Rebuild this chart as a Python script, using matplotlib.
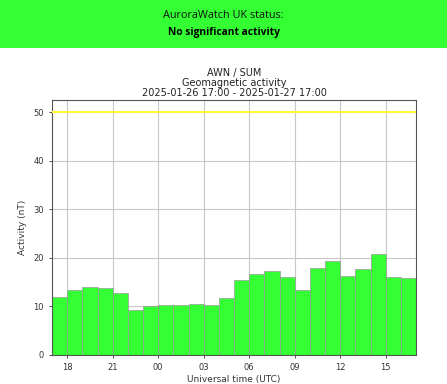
import datetime as dt
import matplotlib
matplotlib.use('Agg')
import matplotlib.pyplot as plt
import matplotlib.dates as mdates
from matplotlib.patches import Rectangle

# hourly activity values (nT), 2025-01-26 17:00 -> 2025-01-27 17:00
activity = [12.0, 13.4, 14.1, 13.8, 12.7, 9.3, 10.1, 10.3, 10.3, 10.4, 10.3, 11.8,
            15.4, 16.6, 17.2, 16.0, 13.4, 17.9, 19.3, 16.2, 17.7, 20.8, 16.0, 15.8]
threshold = 50
start = dt.datetime(2025, 1, 26, 17, 0)
end = dt.datetime(2025, 1, 27, 17, 0)
times = [start + dt.timedelta(hours=i) for i in range(len(activity))]

status_title = 'AuroraWatch UK status:'
status_text = 'No significant activity'
plot_title = 'AWN / SUM\nGeomagnetic activity\n2025-01-26 17:00 - 2025-01-27 17:00'

fig = plt.figure(figsize=(4.47, 3.84), dpi=100)

# green status banner at the top
fig.patches.append(Rectangle((0, 1 - 48 / 384), 1, 48 / 384, transform=fig.transFigure,
                             facecolor='#33ff33', edgecolor='none', zorder=0))
fig.text(0.5, 1 - 15 / 384, status_title, ha='center', va='center',
         fontsize=7.8, family='Open Sans', color='#111111')
fig.text(0.5, 1 - 32 / 384, status_text, ha='center', va='center',
         fontsize=7.4, family='Open Sans', fontweight='bold', color='#000000')

ax = fig.add_axes([52 / 447, 1 - 355 / 384, 364 / 447, 255 / 384])

ax.bar(times, activity, width=1 / 24, align='edge', color='#33ff33',
       edgecolor='#999999', linewidth=0.5, zorder=2)
ax.axhline(threshold, color='#ffff33', linewidth=1.5, zorder=3)

ax.set_xlim(start, end)
ax.set_ylim(0, 52.5)
ax.set_yticks(range(0, 51, 10))
ax.xaxis.set_major_locator(mdates.HourLocator(byhour=range(0, 24, 3)))
ax.xaxis.set_major_formatter(mdates.DateFormatter('%H'))
ax.grid(True, color='#c8c8c8', linewidth=0.8, zorder=0)
ax.set_axisbelow(True)

ax.tick_params(labelsize=6, colors='#333333', length=2.5, width=0.6)
for s in ax.spines.values():
    s.set_color('#555555')
    s.set_linewidth(0.8)

ax.set_xlabel('Universal time (UTC)', fontsize=6.5, color='#333333', labelpad=2)
ax.set_ylabel('Activity (nT)', fontsize=6.5, color='#333333', labelpad=4)
ax.set_title(plot_title, fontsize=7, color='#222222', linespacing=1.0, pad=3)

fig.savefig('out.png', dpi=100)
